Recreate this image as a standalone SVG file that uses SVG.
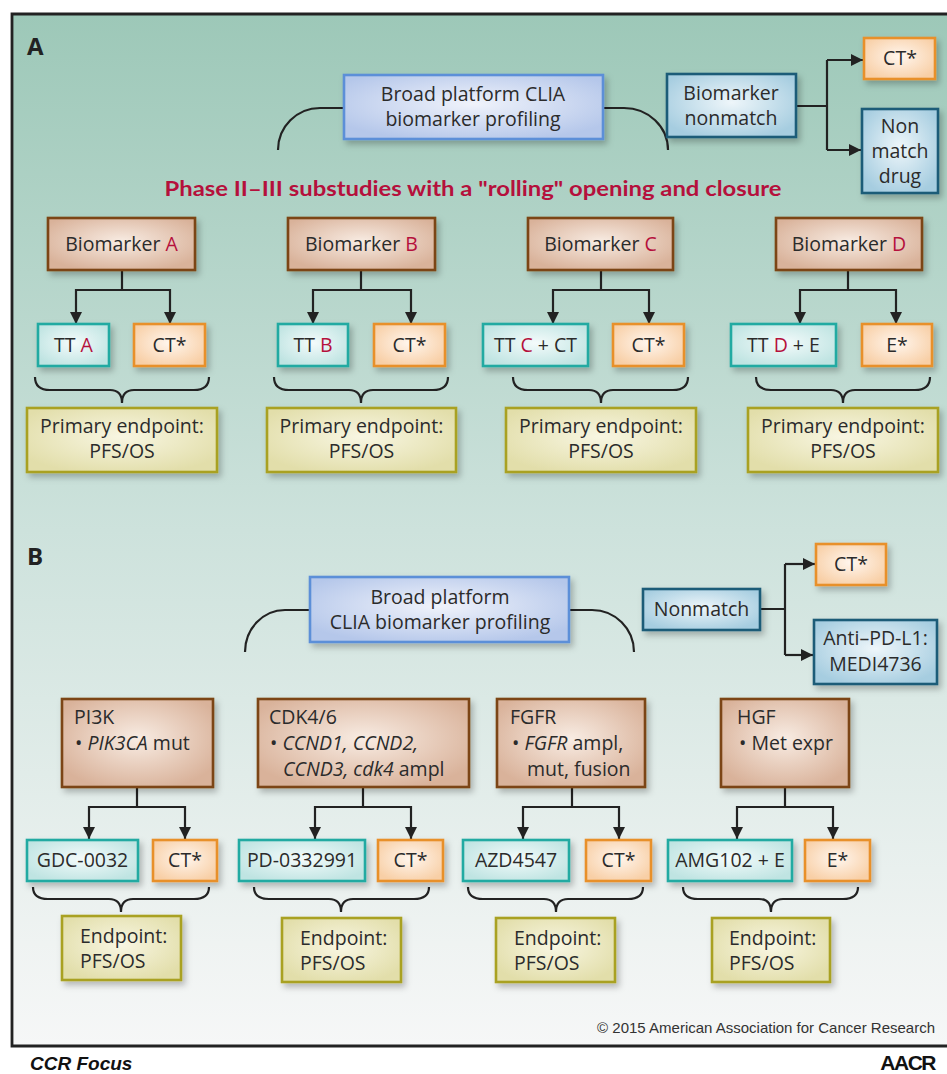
<svg xmlns="http://www.w3.org/2000/svg" width="947" height="1074" viewBox="0 0 947 1074">
<defs>
<style>
.t{font-family:"Open Sans","Liberation Sans",sans-serif;font-size:19.5px;fill:#2b2b2b}
.c{text-anchor:middle}
.r{fill:#b5103c}
.i{font-style:italic}
.conn{fill:none;stroke:#222;stroke-width:2.2}
.brown{fill:url(#gBrown);stroke:#7b4412;stroke-width:2.6;filter:url(#sh)}
.teal{fill:url(#gTeal);stroke:#22aaa2;stroke-width:2.6;filter:url(#sh)}
.orange{fill:url(#gOrange);stroke:#e8902c;stroke-width:2.6;filter:url(#sh)}
.olive{fill:url(#gOlive);stroke:#a9a122;stroke-width:2.6;filter:url(#sh)}
.blue{fill:url(#gBlue);stroke:#5b8fd8;stroke-width:2.6;filter:url(#sh)}
.dblue{fill:url(#gDblue);stroke:#1c5b78;stroke-width:2.6;filter:url(#sh)}
</style>
<linearGradient id="bg" x1="0" y1="0" x2="0" y2="1">
<stop offset="0" stop-color="#9dc8b8"/>
<stop offset="0.5" stop-color="#cde2dc"/>
<stop offset="0.9" stop-color="#eff3f2"/>
<stop offset="1" stop-color="#f6f7f7"/>
</linearGradient>
<radialGradient id="gBrown" cx="0.5" cy="0.45" r="0.6"><stop offset="0" stop-color="#f8ece3"/><stop offset="1" stop-color="#d9b29a"/></radialGradient>
<radialGradient id="gTeal" cx="0.5" cy="0.45" r="0.6"><stop offset="0" stop-color="#f4fbfb"/><stop offset="1" stop-color="#bfe4e2"/></radialGradient>
<radialGradient id="gOrange" cx="0.5" cy="0.45" r="0.6"><stop offset="0" stop-color="#fff6ee"/><stop offset="1" stop-color="#f8cfa6"/></radialGradient>
<radialGradient id="gOlive" cx="0.5" cy="0.45" r="0.6"><stop offset="0" stop-color="#f8f6e2"/><stop offset="1" stop-color="#e2deaa"/></radialGradient>
<radialGradient id="gBlue" cx="0.5" cy="0.45" r="0.6"><stop offset="0" stop-color="#f0f3fb"/><stop offset="1" stop-color="#b5c7ea"/></radialGradient>
<radialGradient id="gDblue" cx="0.5" cy="0.45" r="0.6"><stop offset="0" stop-color="#eef6fa"/><stop offset="1" stop-color="#a6cde0"/></radialGradient>
<filter id="sh" x="-20%" y="-20%" width="150%" height="150%">
<feDropShadow dx="3" dy="4" stdDeviation="3" flood-color="#000" flood-opacity="0.25"/>
</filter>
<marker id="ah" markerWidth="12" markerHeight="12" refX="12" refY="6" orient="auto" markerUnits="userSpaceOnUse">
<path d="M0,0 L12,6 L0,12 z" fill="#222"/>
</marker>
</defs>

<rect x="0" y="0" width="947" height="1074" fill="#fff"/>
<rect x="12" y="14" width="935" height="1032" fill="url(#bg)"/>
<path d="M947,14 L12,14 L12,1046 L947,1046" fill="none" stroke="#222" stroke-width="2.8"/>

<g id="labels">
<text x="27" y="55" style="font-family:'Open Sans','Liberation Sans',sans-serif;font-size:24px;font-weight:bold;fill:#222">A</text>
<text x="27" y="565" style="font-family:'Open Sans','Liberation Sans',sans-serif;font-size:24px;font-weight:bold;fill:#222">B</text>
<text x="473" y="196" text-anchor="middle" textLength="617" lengthAdjust="spacingAndGlyphs" style="font-family:Lato,'Open Sans',sans-serif;font-size:21px;font-weight:bold;fill:#b5103c">Phase II–III substudies with a "rolling" opening and closure</text>
<text x="935" y="1033" text-anchor="end" style="font-family:'Liberation Sans',Arial,sans-serif;font-size:15px;fill:#333">© 2015 American Association for Cancer Research</text>
<text x="30" y="1070" style="font-family:'Liberation Sans',Arial,sans-serif;font-size:19px;font-weight:bold;font-style:italic;fill:#111">CCR Focus</text>
<text x="935" y="1070" text-anchor="end" style="font-family:'Liberation Sans',Arial,sans-serif;font-size:21px;font-weight:bold;fill:#111;letter-spacing:-1.5px">AACR</text>
</g>

<g id="connectors">
<path class="conn" d="M344,108 L320,108 A42,42 0 0 0 278,150"/>
<path class="conn" d="M603,108 L624,108 A44,42 0 0 1 668,150"/>
<path class="conn" d="M796,106 L827,106 M827,60 L827,150"/>
<path class="conn" d="M827,60 L863,60" marker-end="url(#ah)"/>
<path class="conn" d="M827,150 L861,150" marker-end="url(#ah)"/>

<path class="conn" d="M122,270 L122,290 M76,290 L170,290"/>
<path class="conn" d="M76,289 L76,324" marker-end="url(#ah)"/>
<path class="conn" d="M170,289 L170,324" marker-end="url(#ah)"/>
<path class="conn" d="M361,270 L361,290 M313,290 L411,290"/>
<path class="conn" d="M313,289 L313,324" marker-end="url(#ah)"/>
<path class="conn" d="M411,289 L411,324" marker-end="url(#ah)"/>
<path class="conn" d="M601,270 L601,290 M553,290 L649,290"/>
<path class="conn" d="M553,289 L553,324" marker-end="url(#ah)"/>
<path class="conn" d="M649,289 L649,324" marker-end="url(#ah)"/>
<path class="conn" d="M848,270 L848,290 M800,290 L896,290"/>
<path class="conn" d="M800,289 L800,324" marker-end="url(#ah)"/>
<path class="conn" d="M896,289 L896,324" marker-end="url(#ah)"/>

<path class="conn" d="M35,377 Q35,390 50,390 L110,390 Q122,390 122,403 Q122,390 134,390 L194,390 Q209,390 209,377"/>
<path class="conn" d="M274,377 Q274,390 289,390 L349,390 Q361,390 361,403 Q361,390 373,390 L433,390 Q448,390 448,377"/>
<path class="conn" d="M513,377 Q513,390 528,390 L589,390 Q601,390 601,403 Q601,390 613,390 L673,390 Q688,390 688,377"/>
<path class="conn" d="M756,377 Q756,390 771,390 L831,390 Q843,390 843,403 Q843,390 855,390 L915,390 Q930,390 930,377"/>

<path class="conn" d="M310,610 L285,610 A40,42 0 0 0 245,652"/>
<path class="conn" d="M569,610 L592,610 A42,42 0 0 1 634,652"/>
<path class="conn" d="M760,609 L785,609 M785,564 L785,655"/>
<path class="conn" d="M785,564 L815,564" marker-end="url(#ah)"/>
<path class="conn" d="M785,655 L813,655" marker-end="url(#ah)"/>

<path class="conn" d="M137,787 L137,807 M89,807 L185,807"/>
<path class="conn" d="M89,806 L89,839" marker-end="url(#ah)"/>
<path class="conn" d="M185,806 L185,839" marker-end="url(#ah)"/>
<path class="conn" d="M363,787 L363,807 M315,807 L411,807"/>
<path class="conn" d="M315,806 L315,839" marker-end="url(#ah)"/>
<path class="conn" d="M411,806 L411,839" marker-end="url(#ah)"/>
<path class="conn" d="M572,787 L572,807 M523,807 L619,807"/>
<path class="conn" d="M523,806 L523,839" marker-end="url(#ah)"/>
<path class="conn" d="M619,806 L619,839" marker-end="url(#ah)"/>
<path class="conn" d="M785,787 L785,807 M737,807 L833,807"/>
<path class="conn" d="M737,806 L737,839" marker-end="url(#ah)"/>
<path class="conn" d="M833,806 L833,839" marker-end="url(#ah)"/>

<path class="conn" d="M33,887 Q33,899 48,899 L109,899 Q121,899 121,912 Q121,899 133,899 L194,899 Q209,899 209,887"/>
<path class="conn" d="M254,887 Q254,899 269,899 L329,899 Q341,899 341,912 Q341,899 353,899 L414,899 Q429,899 429,887"/>
<path class="conn" d="M468,887 Q468,899 483,899 L544,899 Q556,899 556,912 Q556,899 568,899 L628,899 Q643,899 643,887"/>
<path class="conn" d="M683,887 Q683,899 698,899 L759,899 Q771,899 771,912 Q771,899 783,899 L843,899 Q858,899 858,887"/>
</g>

<g id="a-platform"><rect class="blue" x="344" y="75" width="259" height="64"/>
<text class="t c" x="473" y="101">Broad platform CLIA</text><text class="t c" x="473" y="126">biomarker profiling</text></g>
<g id="a-nonmatch"><rect class="dblue" x="667" y="74" width="129" height="63"/>
<text class="t c" x="731" y="100">Biomarker</text><text class="t c" x="731" y="125">nonmatch</text></g>
<g id="a-ct-top"><rect class="orange" x="864" y="38" width="71" height="41"/><text class="t c" x="900" y="65">CT*</text></g>
<g id="a-nonmatch-drug"><rect class="dblue" x="862" y="109" width="76" height="84"/>
<text class="t c" x="900" y="133">Non</text><text class="t c" x="900" y="158">match</text><text class="t c" x="900" y="183">drug</text></g>

<g id="a-bmA"><rect class="brown" x="48" y="218" width="147" height="52"/><text class="t c" x="121.5" y="251">Biomarker <tspan class="r">A</tspan></text></g>
<g id="a-bmB"><rect class="brown" x="288" y="218" width="147" height="52"/><text class="t c" x="361.5" y="251">Biomarker <tspan class="r">B</tspan></text></g>
<g id="a-bmC"><rect class="brown" x="528" y="218" width="145" height="52"/><text class="t c" x="600.5" y="251">Biomarker <tspan class="r">C</tspan></text></g>
<g id="a-bmD"><rect class="brown" x="776" y="218" width="146" height="52"/><text class="t c" x="849" y="251">Biomarker <tspan class="r">D</tspan></text></g>

<g id="a-ttA"><rect class="teal" x="38" y="324" width="71" height="42"/><text class="t c" x="73.5" y="352">TT <tspan class="r">A</tspan></text></g>
<g id="a-ctA"><rect class="orange" x="134" y="324" width="71" height="42"/><text class="t c" x="169.5" y="352">CT*</text></g>
<g id="a-ttB"><rect class="teal" x="278" y="324" width="70" height="42"/><text class="t c" x="313" y="352">TT <tspan class="r">B</tspan></text></g>
<g id="a-ctB"><rect class="orange" x="374" y="324" width="71" height="42"/><text class="t c" x="409.5" y="352">CT*</text></g>
<g id="a-ttC"><rect class="teal" x="483" y="324" width="105" height="42"/><text class="t c" x="535.5" y="352">TT <tspan class="r">C</tspan> + CT</text></g>
<g id="a-ctC"><rect class="orange" x="613" y="324" width="71" height="42"/><text class="t c" x="648.5" y="352">CT*</text></g>
<g id="a-ttD"><rect class="teal" x="731" y="324" width="105" height="42"/><text class="t c" x="783.5" y="352">TT <tspan class="r">D</tspan> + E</text></g>
<g id="a-eD"><rect class="orange" x="862" y="324" width="70" height="42"/><text class="t c" x="897" y="352">E*</text></g>

<g id="a-epA"><rect class="olive" x="27" y="408" width="190" height="64"/><text class="t c" x="122" y="433">Primary endpoint:</text><text class="t c" x="122" y="458">PFS/OS</text></g>
<g id="a-epB"><rect class="olive" x="267" y="408" width="189" height="64"/><text class="t c" x="361.5" y="433">Primary endpoint:</text><text class="t c" x="361.5" y="458">PFS/OS</text></g>
<g id="a-epC"><rect class="olive" x="506" y="408" width="190" height="64"/><text class="t c" x="601" y="433">Primary endpoint:</text><text class="t c" x="601" y="458">PFS/OS</text></g>
<g id="a-epD"><rect class="olive" x="748" y="408" width="190" height="64"/><text class="t c" x="843" y="433">Primary endpoint:</text><text class="t c" x="843" y="458">PFS/OS</text></g>

<g id="b-platform"><rect class="blue" x="310" y="577" width="259" height="65"/>
<text class="t c" x="440" y="604">Broad platform</text><text class="t c" x="440" y="629">CLIA biomarker profiling</text></g>
<g id="b-nonmatch"><rect class="dblue" x="643" y="589" width="117" height="41"/><text class="t c" x="701.5" y="616">Nonmatch</text></g>
<g id="b-ct-top"><rect class="orange" x="816" y="544" width="70" height="41"/><text class="t c" x="851" y="571">CT*</text></g>
<g id="b-antipdl1"><rect class="dblue" x="814" y="620" width="123" height="64"/>
<text class="t c" x="875.5" y="645">Anti–PD-L1:</text><text class="t c" x="875.5" y="671">MEDI4736</text></g>

<g id="b-pi3k"><rect class="brown" x="62" y="699" width="151" height="88"/>
<text class="t" x="74" y="724">PI3K</text><text class="t" x="75" y="750">• <tspan class="i">PIK3CA</tspan> mut</text></g>
<g id="b-cdk"><rect class="brown" x="258" y="699" width="211" height="88"/>
<text class="t" x="269" y="724">CDK4/6</text><text class="t" x="270" y="750">• <tspan class="i">CCND1, CCND2,</tspan></text><text class="t" x="283" y="776"><tspan class="i">CCND3, cdk4</tspan> ampl</text></g>
<g id="b-fgfr"><rect class="brown" x="497" y="699" width="148" height="88"/>
<text class="t" x="510" y="724">FGFR</text><text class="t" x="512" y="750">• <tspan class="i">FGFR</tspan> ampl,</text><text class="t" x="527" y="776">mut, fusion</text></g>
<g id="b-hgf"><rect class="brown" x="721" y="699" width="128" height="88"/>
<text class="t" x="737" y="724">HGF</text><text class="t" x="739" y="750">• Met expr</text></g>

<g id="b-gdc"><rect class="teal" x="27" y="840" width="111" height="41"/><text class="t c" x="82.5" y="867">GDC-0032</text></g>
<g id="b-ct1"><rect class="orange" x="153" y="840" width="64" height="41"/><text class="t c" x="185" y="867">CT*</text></g>
<g id="b-pd"><rect class="teal" x="239" y="840" width="126" height="41"/><text class="t c" x="302" y="867">PD-0332991</text></g>
<g id="b-ct2"><rect class="orange" x="378" y="840" width="65" height="41"/><text class="t c" x="410.5" y="867">CT*</text></g>
<g id="b-azd"><rect class="teal" x="463" y="840" width="106" height="41"/><text class="t c" x="516" y="867">AZD4547</text></g>
<g id="b-ct3"><rect class="orange" x="586" y="840" width="65" height="41"/><text class="t c" x="618.5" y="867">CT*</text></g>
<g id="b-amg"><rect class="teal" x="668" y="840" width="124" height="41"/><text class="t c" x="730" y="867">AMG102 + E</text></g>
<g id="b-e"><rect class="orange" x="805" y="840" width="65" height="41"/><text class="t c" x="837.5" y="867">E*</text></g>

<g id="b-ep1"><rect class="olive" x="62" y="916" width="119" height="64"/><text class="t" x="80" y="943">Endpoint:</text><text class="t" x="80" y="968">PFS/OS</text></g>
<g id="b-ep2"><rect class="olive" x="282" y="918" width="119" height="64"/><text class="t" x="300" y="945">Endpoint:</text><text class="t" x="300" y="970">PFS/OS</text></g>
<g id="b-ep3"><rect class="olive" x="496" y="918" width="119" height="64"/><text class="t" x="514" y="945">Endpoint:</text><text class="t" x="514" y="970">PFS/OS</text></g>
<g id="b-ep4"><rect class="olive" x="712" y="918" width="118" height="64"/><text class="t" x="729" y="945">Endpoint:</text><text class="t" x="729" y="970">PFS/OS</text></g>
</svg>
